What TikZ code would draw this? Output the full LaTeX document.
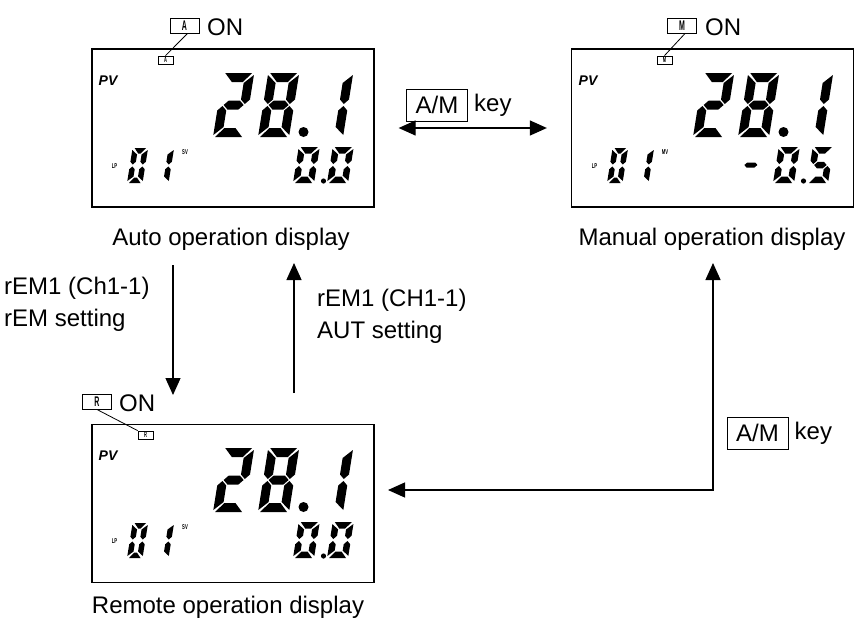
\documentclass[tikz,border=0pt]{standalone}
\usepackage{fontspec}
\setmainfont{Liberation Sans}
\usepackage{graphicx}
\usetikzlibrary{arrows.meta}

\def\slant{0.16}
\def\G{1}
\def\sega{({2*\G},\H) -- ({\W-2*\G},\H) -- ({\W-\T-\G},{\H-\T}) -- ({\T+\G},{\H-\T}) -- cycle}
\def\segb{(\W,{\H-2*\G}) -- ({\W-\T},{\H-\T-\G}) -- ({\W-\T},{\H/2+\T/2+\G}) -- ({\W-\T/2},{\H/2+\G}) -- (\W,{\H/2+\T/2+\G}) -- cycle}
\def\segc{(\W,{2*\G}) -- ({\W-\T},{\T+\G}) -- ({\W-\T},{\H/2-\T/2-\G}) -- ({\W-\T/2},{\H/2-\G}) -- (\W,{\H/2-\T/2-\G}) -- cycle}
\def\segd{({2*\G},0) -- ({\W-2*\G},0) -- ({\W-\T-\G},\T) -- ({\T+\G},\T) -- cycle}
\def\sege{(0,{2*\G}) -- (\T,{\T+\G}) -- (\T,{\H/2-\T/2-\G}) -- ({\T/2},{\H/2-\G}) -- (0,{\H/2-\T/2-\G}) -- cycle}
\def\segf{(0,{\H-2*\G}) -- (\T,{\H-\T-\G}) -- (\T,{\H/2+\T/2+\G}) -- ({\T/2},{\H/2+\G}) -- (0,{\H/2+\T/2+\G}) -- cycle}
\def\segg{({\T/2+\G},{\H/2}) -- ({\T+\G},{\H/2+\T/2}) -- ({\W-\T-\G},{\H/2+\T/2}) -- ({\W-\T/2-\G},{\H/2}) -- ({\W-\T-\G},{\H/2-\T/2}) -- ({\T+\G},{\H/2-\T/2}) -- cycle}

% seven-segment digit: x, y (bottom-left, picture px), width, height, thickness, segments
\newcommand{\ssd}[6]{%
  \begin{scope}[shift={(#1,#2)},x={(1pt,0pt)},y={(\slant pt,1pt)}]
    \def\W{#3}\def\H{#4}\def\T{#5}%
    \foreach \s in {#6}{\expandafter\fill\csname seg\s\endcsname;}
  \end{scope}}

\newcommand{\lcdcommon}[3]{%
  \begin{scope}[shift={(#1,#2)}]
    \node[pvtext] (#3-pv) at (108,81) {PV};
    \ssd{213}{137}{31}{64}{9}{a,b,g,e,d}
    \ssd{258}{137}{31}{64}{9}{a,b,c,d,e,f,g}
    \fill (303.5,132) circle (5pt);
    \ssd{312}{137}{31}{64}{9}{b,c}
    \node[tinytext] (#3-lp) at (114.5,166.5) {\scalebox{0.6}[1]{LP}};
    \ssd{127}{183}{15.5}{35}{5.5}{a,b,c,d,e,f}
    \ssd{153}{183}{15.5}{35}{5.5}{b,c}
  \end{scope}}

\newcommand{\zerozero}[2]{%
  \begin{scope}[shift={(#1,#2)}]
    \ssd{293}{183}{21}{36}{6.5}{a,b,c,d,e,f}
    \fill (323.5,181) circle (2.6pt);
    \ssd{327}{183}{21}{36}{6.5}{a,b,c,d,e,f}
  \end{scope}}

\newcommand{\lcdletter}[1]{\fontsize{14}{14}\selectfont\bfseries\scalebox{0.5}[1]{#1}}
\newcommand{\lcdtiny}[1]{\fontsize{8}{8}\selectfont\bfseries\scalebox{0.5}[1]{#1}}

\begin{document}
\begin{tikzpicture}[x=1pt,y=-1pt,
  lcdbox/.style={draw, line width=1.3pt, minimum width=282pt, minimum height=158pt, inner sep=0pt},
  pvtext/.style={font=\fontsize{14}{14}\selectfont\bfseries\itshape, inner sep=0pt},
  tinytext/.style={font=\fontsize{7}{7}\selectfont\bfseries, inner sep=0pt},
  labeltext/.style={font=\fontsize{24}{32}\selectfont, inner sep=0pt},
  keybox/.style={draw, line width=1pt, minimum width=61pt, minimum height=32pt, inner sep=0pt, font=\fontsize{24}{24}\selectfont},
  onbox/.style={draw, line width=1pt, minimum width=29pt, minimum height=15pt, inner sep=0pt},
  indbox/.style={draw, line width=0.8pt, minimum width=15pt, minimum height=8pt, inner sep=0pt},
  conn/.style={line width=1.3pt, -{Triangle[length=17pt,width=15pt]}},
  dconn/.style={line width=1.3pt, {Triangle[length=17pt,width=15pt]}-{Triangle[length=17pt,width=15pt]}},
  leader/.style={line width=0.8pt}
]
\useasboundingbox (0,0) rectangle (856,624);

% display boxes
\node[lcdbox] (auto) at (233,128) {};
\node[lcdbox] (manual) at (712.5,128) {};
\node[lcdbox] (remote) at (233,503.5) {};

% contents
\lcdcommon{0}{0}{a}
\lcdcommon{480}{0}{m}
\lcdcommon{0}{375}{r}
\zerozero{0}{0}
\zerozero{0}{375}
\node[tinytext] (a-sv) at (185,152.5) {\scalebox{0.6}[1]{SV}};
\node[tinytext] (r-sv) at (185,527.5) {\scalebox{0.6}[1]{SV}};
\node[tinytext] (m-mv) at (665,152.5) {\scalebox{0.6}[1]{MV}};
\begin{scope}[shift={(480,0)}]
  \ssd{258}{183}{20}{36}{5}{g}
  \ssd{293}{183}{21}{36}{6.5}{a,b,c,d,e,f}
  \fill (323.5,181) circle (2.6pt);
  \ssd{327}{183}{21}{36}{6.5}{a,f,g,c,d}
\end{scope}

% indicators
\node[onbox] (aon) at (184.5,25.5) {\lcdletter{A}};
\node[labeltext, anchor=west] (aontxt) at (207,27) {ON};
\node[indbox] (aind) at (165.5,60) {\lcdtiny{A}};
\draw[leader] ([xshift=3pt]aon.south) -- (aind.north);

\node[onbox] (mon) at (682,25.5) {\lcdletter{M}};
\node[labeltext, anchor=west] (montxt) at (705,27) {ON};
\node[indbox] (mind) at (664.5,60) {\lcdtiny{M}};
\draw[leader] ([xshift=3pt]mon.south) -- (mind.north);

\node[onbox] (ron) at (97,401.5) {\lcdletter{R}};
\node[labeltext, anchor=west] (rontxt) at (119,403) {ON};
\node[indbox] (rind) at (145.5,435) {\lcdtiny{R}};
\draw[leader] (ron.south) -- (rind.north west);

% captions
\node[labeltext] (autocap) at (231,239) {Auto operation display};
\node[labeltext] (mancap) at (712,239) {Manual operation display};
\node[labeltext] (remcap) at (228,607) {Remote operation display};

% connectors
\coordinate (d1) at (173,265);
\coordinate (d2) at (173,395);
\draw[conn] (d1) -- (d2);
\coordinate (u1) at (294,393);
\coordinate (u2) at (294,263);
\draw[conn] (u1) -- (u2);
\draw[dconn] ([xshift=24pt]auto.east) -- ([xshift=-24pt]manual.west);
\coordinate (rtip) at (388,490);
\coordinate (corner) at (713,490);
\coordinate (mtip) at (713,263);
\draw[dconn] (rtip) -- (corner) -- (mtip);

% connector labels
\node[keybox] (amk1) at (437,105) {A/M};
\node[labeltext, anchor=west] (key1) at ([xshift=6pt]amk1.east) {key};
\node[keybox] (amk2) at (757.5,433) {A/M};
\node[labeltext, anchor=west] (key2) at ([xshift=6pt]amk2.east) {key};
\node[labeltext, align=left, anchor=west] (lab1) at (4,304) {rEM1 (Ch1-1)\\rEM setting};
\node[labeltext, align=left, anchor=west] (lab2) at (317,316) {rEM1 (CH1-1)\\AUT setting};
\end{tikzpicture}
\end{document}
